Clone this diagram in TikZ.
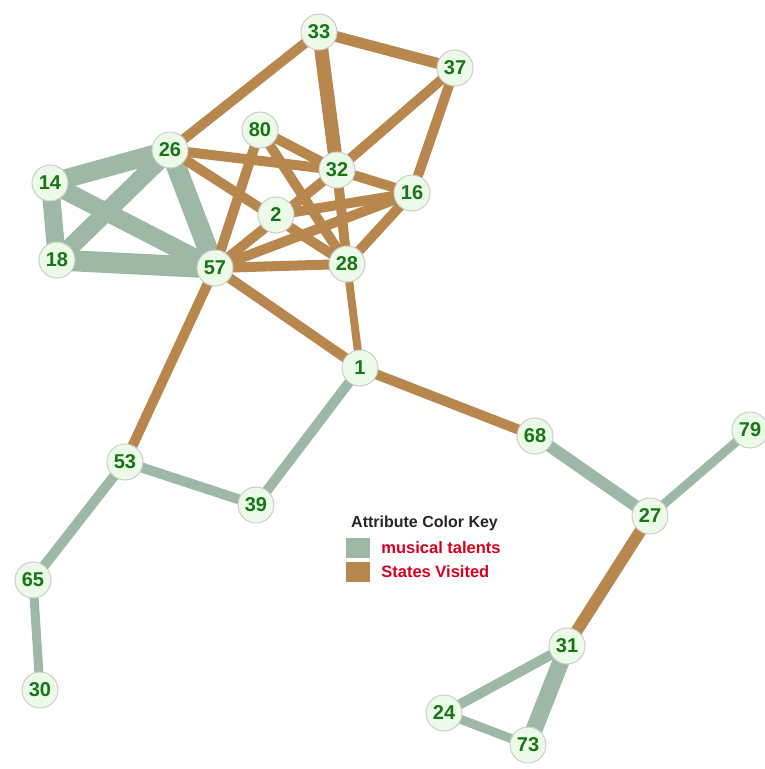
\documentclass[tikz,border=0pt]{standalone}
\usepackage{fontspec}
\setmainfont{Liberation Sans}
\usetikzlibrary{backgrounds}
\definecolor{musical}{RGB}{158, 184, 166}
\definecolor{states}{RGB}{184, 135, 78}
\definecolor{vertex}{RGB}{236, 250, 232}
\definecolor{label}{RGB}{22, 118, 22}
\definecolor{keytext}{RGB}{214, 0, 30}

\begin{document}
\begin{tikzpicture}[
                x=1pt, y=-1pt,
                vert/.style={circle, draw=black!20, fill=vertex, line width=1pt,
                    minimum size=36pt, inner sep=0pt, text=label,
                    font=\fontsize{20}{20}\selectfont\bfseries},
                mus/.style={draw=musical, line width=10pt},
                sta/.style={draw=states, line width=10pt},
                swatch/.style={rectangle, minimum width=24pt, minimum height=20pt, inner sep=0pt},
                keylabel/.style={right, text=keytext, inner sep=0pt,
                    font=\fontsize{16.5}{17}\selectfont\bfseries}
                ]
                \useasboundingbox (0,0) rectangle (765,769);
                \node[vert] (n33) at (319,32) {33};
                \node[vert] (n37) at (455,68) {37};
                \node[vert] (n26) at (170,150) {26};
                \node[vert] (n80) at (260,130) {80};
                \node[vert] (n32) at (337,170) {32};
                \node[vert] (n16) at (412,193) {16};
                \node[vert] (n14) at (50,183) {14};
                \node[vert] (n2) at (276,215) {2};
                \node[vert] (n18) at (57,260) {18};
                \node[vert] (n57) at (215,268) {57};
                \node[vert] (n28) at (347,264) {28};
                \node[vert] (n1) at (360,368) {1};
                \node[vert] (n68) at (535,436) {68};
                \node[vert] (n79) at (750,430) {79};
                \node[vert] (n53) at (125,462) {53};
                \node[vert] (n39) at (256,505) {39};
                \node[vert] (n27) at (650,516) {27};
                \node[vert] (n65) at (33,580) {65};
                \node[vert] (n31) at (567,646) {31};
                \node[vert] (n30) at (40,690) {30};
                \node[vert] (n24) at (444,713) {24};
                \node[vert] (n73) at (528,745) {73};
                % legend
                \node[font=\fontsize{16}{17}\selectfont\bfseries, text=black!85, anchor=west,
                    inner sep=0pt] (keyhead) at (351,523) {Attribute Color Key};
                \node[swatch, fill=musical] (keymus) at (358,548) {};
                \node[swatch, fill=states] (keysta) at (358,572) {};
                \node[keylabel] (keymustext) at ([xshift=11pt]keymus.east) {musical talents};
                \node[keylabel] (keystatext) at ([xshift=11pt]keysta.east) {States Visited};
                \begin{scope}[on background layer]
                \draw[mus, line width=19pt] (n14.center) -- (n26.center);
                \draw[mus, line width=18pt] (n14.center) -- (n18.center);
                \draw[mus, line width=18pt] (n14.center) -- (n57.center);
                \draw[mus, line width=18pt] (n18.center) -- (n26.center);
                \draw[mus, line width=21pt] (n18.center) -- (n57.center);
                \draw[mus, line width=20pt] (n26.center) -- (n57.center);
                \draw[mus] (n1.center) -- (n39.center);
                \draw[mus] (n53.center) -- (n39.center);
                \draw[mus] (n53.center) -- (n65.center);
                \draw[mus, line width=9pt] (n65.center) -- (n30.center);
                \draw[mus, line width=12pt] (n68.center) -- (n27.center);
                \draw[mus, line width=9pt] (n27.center) -- (n79.center);
                \draw[mus] (n31.center) -- (n24.center);
                \draw[mus, line width=17pt] (n31.center) -- (n73.center);
                \draw[mus, line width=9pt] (n24.center) -- (n73.center);
                \draw[sta, line width=11pt] (n33.center) -- (n37.center);
                \draw[sta, line width=14pt] (n33.center) -- (n32.center);
                \draw[sta] (n33.center) -- (n26.center);
                \draw[sta] (n37.center) -- (n32.center);
                \draw[sta] (n37.center) -- (n16.center);
                \draw[sta] (n26.center) -- (n32.center);
                \draw[sta] (n26.center) -- (n28.center);
                \draw[sta] (n80.center) -- (n57.center);
                \draw[sta] (n80.center) -- (n32.center);
                \draw[sta] (n80.center) -- (n28.center);
                \draw[sta] (n32.center) -- (n16.center);
                \draw[sta] (n32.center) -- (n28.center);
                \draw[sta] (n32.center) -- (n57.center);
                \draw[sta] (n16.center) -- (n2.center);
                \draw[sta] (n16.center) -- (n57.center);
                \draw[sta] (n16.center) -- (n28.center);
                \draw[sta] (n57.center) -- (n28.center);
                \draw[sta] (n57.center) -- (n1.center);
                \draw[sta] (n57.center) -- (n53.center);
                \draw[sta, line width=8pt] (n28.center) -- (n1.center);
                \draw[sta] (n1.center) -- (n68.center);
                \draw[sta, line width=12pt] (n27.center) -- (n31.center);
                \end{scope}
            \end{tikzpicture}
\end{document}
